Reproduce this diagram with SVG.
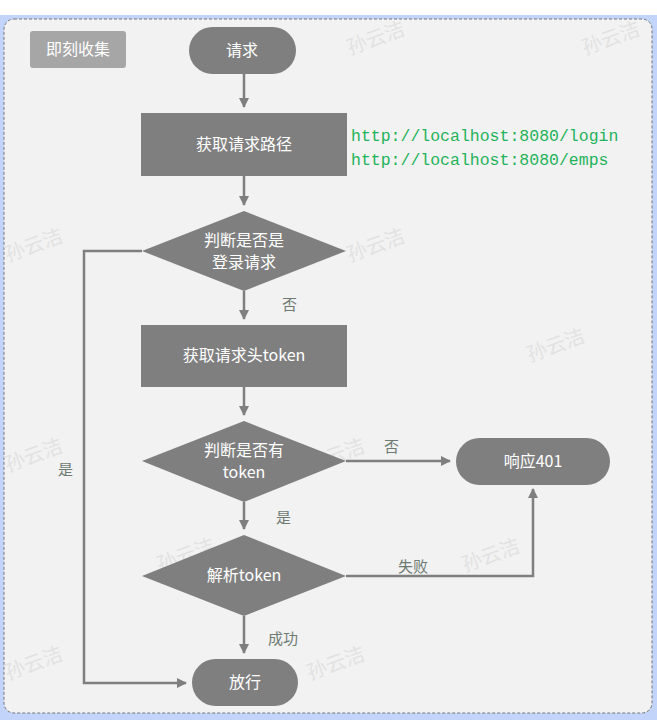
<svg xmlns="http://www.w3.org/2000/svg" width="657" height="726" viewBox="0 0 657 726">
<style>
.n{fill:#7f7f7f}
.t{font-family:"Noto Sans CJK SC","Noto Sans",sans-serif;font-size:16px;fill:#fff;text-anchor:middle}
.l{font-family:"Noto Sans CJK SC",sans-serif;font-size:15px;fill:#6e7b72}
.c{fill:none;stroke:#7f7f7f;stroke-width:2.5}
.w{font-family:"Noto Sans CJK SC",sans-serif;font-size:20px;fill:#e2e2e2}
.u{font-family:"Liberation Mono",monospace;font-size:16.5px;fill:#1fb35a}
</style>
<defs><marker id="a" viewBox="0 0 10 10" refX="9" refY="5" markerWidth="4" markerHeight="4" orient="auto"><path d="M0,0L10,5L0,10z" fill="#7f7f7f"/></marker></defs>
<rect x="0" y="15" width="657" height="705" fill="#c3d4fb"/>
<rect x="4" y="19" width="648" height="694" rx="10" fill="#f2f2f2" stroke="#777" stroke-dasharray="3,2"/>
<g>
<text class="w" transform="translate(350,55) rotate(-20)">孙云洁</text>
<text class="w" transform="translate(585,55) rotate(-20)">孙云洁</text>
<text class="w" transform="translate(350,262) rotate(-20)">孙云洁</text>
<text class="w" transform="translate(8,262) rotate(-20)">孙云洁</text>
<text class="w" transform="translate(530,362) rotate(-20)">孙云洁</text>
<text class="w" transform="translate(8,472) rotate(-20)">孙云洁</text>
<text class="w" transform="translate(310,472) rotate(-20)">孙云洁</text>
<text class="w" transform="translate(160,572) rotate(-20)">孙云洁</text>
<text class="w" transform="translate(465,572) rotate(-20)">孙云洁</text>
<text class="w" transform="translate(8,680) rotate(-20)">孙云洁</text>
<text class="w" transform="translate(310,680) rotate(-20)">孙云洁</text>
</g>
<g id="title"><rect x="30" y="31" width="96" height="37" rx="3" fill="#a6a6a6"/><text class="t" x="78" y="55">即刻收集</text></g>
<g id="connectors">
<path class="c" d="M244,74V107" marker-end="url(#a)"/>
<path class="c" d="M244,176V205" marker-end="url(#a)"/>
<path class="c" d="M244,291V319" marker-end="url(#a)"/>
<path class="c" d="M244,387V415" marker-end="url(#a)"/>
<path class="c" d="M244,502V529" marker-end="url(#a)"/>
<path class="c" d="M244,616V653" marker-end="url(#a)"/>
<path class="c" d="M346,461H450" marker-end="url(#a)"/>
<path class="c" d="M346,576H533V489" marker-end="url(#a)"/>
<path class="c" d="M142,251H84V683H186" marker-end="url(#a)"/>
</g>
<g id="labels">
<text class="l" x="282" y="310">否</text>
<text class="l" x="384" y="452">否</text>
<text class="l" x="276" y="523">是</text>
<text class="l" x="58" y="475">是</text>
<text class="l" x="398" y="572">失败</text>
<text class="l" x="268" y="644">成功</text>
<text class="u" x="351" y="141">http://localhost:8080/login</text>
<text class="u" x="351" y="165">http://localhost:8080/emps</text>
</g>
<g id="n1"><rect class="n" x="189" y="27" width="107" height="47" rx="23.5"/><text class="t" x="242" y="56">请求</text></g>
<g id="n2"><rect class="n" x="141" y="113" width="206" height="63"/><text class="t" x="244" y="150">获取请求路径</text></g>
<g id="n3"><path class="n" d="M142,251L244,211L346,251L244,291z"/><text class="t" x="244" y="246">判断是否是</text><text class="t" x="244" y="268">登录请求</text></g>
<g id="n4"><rect class="n" x="141" y="325" width="206" height="62"/><text class="t" x="244" y="361">获取请求头token</text></g>
<g id="n5"><path class="n" d="M142,461L244,421L346,461L244,502z"/><text class="t" x="244" y="456">判断是否有</text><text class="t" x="244" y="478">token</text></g>
<g id="n6"><rect class="n" x="456" y="438" width="154" height="47" rx="23.5"/><text class="t" x="533" y="467">响应401</text></g>
<g id="n7"><path class="n" d="M142,576L244,535L346,576L244,616z"/><text class="t" x="244" y="581">解析token</text></g>
<g id="n8"><rect class="n" x="192" y="659" width="106" height="47" rx="23.5"/><text class="t" x="245" y="688">放行</text></g>
</svg>
